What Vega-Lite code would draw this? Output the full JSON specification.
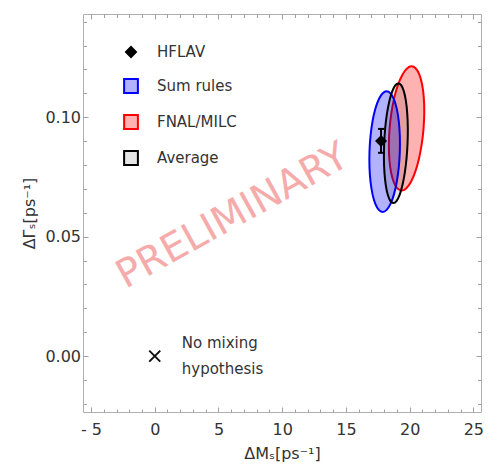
{
  "$schema": "https://vega.github.io/schema/vega-lite/v6.json",
  "width": 398,
  "height": 398,
  "padding": {"left": 21, "top": 13, "right": 5, "bottom": 5},
  "background": "white",
  "config": {
    "font": "DejaVu Sans",
    "view": {"stroke": "#b0b0b0", "strokeWidth": 1},
    "axis": {
      "grid": false, "domain": false, "tickColor": "#a0a0a0", "tickWidth": 1,
      "labelFont": "DejaVu Sans", "labelFontSize": 16, "labelColor": "#333333",
      "titleFont": "DejaVu Sans", "titleFontSize": 16, "titleFontWeight": "normal", "titleColor": "#333333",
      "labelOverlap": false, "labelFlush": false
    }
  },
  "datasets": {
    "red": [
      {"i": 0, "dm": 21.092, "dg": 0.0953}, {"i": 1, "dm": 21.148, "dg": 0.1020}, {"i": 2, "dm": 21.110, "dg": 0.1083},
      {"i": 3, "dm": 20.979, "dg": 0.1137}, {"i": 4, "dm": 20.765, "dg": 0.1178}, {"i": 5, "dm": 20.484, "dg": 0.1204},
      {"i": 6, "dm": 20.152, "dg": 0.1213}, {"i": 7, "dm": 19.794, "dg": 0.1204}, {"i": 8, "dm": 19.433, "dg": 0.1178},
      {"i": 9, "dm": 19.095, "dg": 0.1137}, {"i": 10, "dm": 18.802, "dg": 0.1083}, {"i": 11, "dm": 18.574, "dg": 0.1020},
      {"i": 12, "dm": 18.428, "dg": 0.0953}, {"i": 13, "dm": 18.372, "dg": 0.0886}, {"i": 14, "dm": 18.410, "dg": 0.0823},
      {"i": 15, "dm": 18.541, "dg": 0.0769}, {"i": 16, "dm": 18.755, "dg": 0.0728}, {"i": 17, "dm": 19.036, "dg": 0.0702},
      {"i": 18, "dm": 19.368, "dg": 0.0693}, {"i": 19, "dm": 19.726, "dg": 0.0702}, {"i": 20, "dm": 20.087, "dg": 0.0728},
      {"i": 21, "dm": 20.425, "dg": 0.0769}, {"i": 22, "dm": 20.718, "dg": 0.0823}, {"i": 23, "dm": 20.946, "dg": 0.0886}
    ],
    "blue": [
      {"i": 0, "dm": 19.230, "dg": 0.0856}, {"i": 1, "dm": 19.230, "dg": 0.0922}, {"i": 2, "dm": 19.150, "dg": 0.0983},
      {"i": 3, "dm": 18.992, "dg": 0.1035}, {"i": 4, "dm": 18.771, "dg": 0.1075}, {"i": 5, "dm": 18.500, "dg": 0.1100},
      {"i": 6, "dm": 18.197, "dg": 0.1109}, {"i": 7, "dm": 17.884, "dg": 0.1100}, {"i": 8, "dm": 17.581, "dg": 0.1075},
      {"i": 9, "dm": 17.310, "dg": 0.1035}, {"i": 10, "dm": 17.088, "dg": 0.0983}, {"i": 11, "dm": 16.932, "dg": 0.0922},
      {"i": 12, "dm": 16.850, "dg": 0.0856}, {"i": 13, "dm": 16.850, "dg": 0.0790}, {"i": 14, "dm": 16.930, "dg": 0.0730},
      {"i": 15, "dm": 17.088, "dg": 0.0677}, {"i": 16, "dm": 17.309, "dg": 0.0637}, {"i": 17, "dm": 17.580, "dg": 0.0612},
      {"i": 18, "dm": 17.883, "dg": 0.0603}, {"i": 19, "dm": 18.196, "dg": 0.0612}, {"i": 20, "dm": 18.499, "dg": 0.0637},
      {"i": 21, "dm": 18.770, "dg": 0.0677}, {"i": 22, "dm": 18.992, "dg": 0.0730}, {"i": 23, "dm": 19.148, "dg": 0.0790}
    ],
    "black": [
      {"i": 0, "dm": 19.837, "dg": 0.0891}, {"i": 1, "dm": 19.857, "dg": 0.0956}, {"i": 2, "dm": 19.812, "dg": 0.1016},
      {"i": 3, "dm": 19.707, "dg": 0.1068}, {"i": 4, "dm": 19.549, "dg": 0.1108}, {"i": 5, "dm": 19.346, "dg": 0.1133},
      {"i": 6, "dm": 19.116, "dg": 0.1141}, {"i": 7, "dm": 18.872, "dg": 0.1133}, {"i": 8, "dm": 18.631, "dg": 0.1108},
      {"i": 9, "dm": 18.411, "dg": 0.1068}, {"i": 10, "dm": 18.224, "dg": 0.1016}, {"i": 11, "dm": 18.085, "dg": 0.0956},
      {"i": 12, "dm": 18.003, "dg": 0.0891}, {"i": 13, "dm": 17.983, "dg": 0.0826}, {"i": 14, "dm": 18.028, "dg": 0.0766},
      {"i": 15, "dm": 18.133, "dg": 0.0714}, {"i": 16, "dm": 18.291, "dg": 0.0674}, {"i": 17, "dm": 18.494, "dg": 0.0649},
      {"i": 18, "dm": 18.724, "dg": 0.0641}, {"i": 19, "dm": 18.968, "dg": 0.0649}, {"i": 20, "dm": 19.209, "dg": 0.0674},
      {"i": 21, "dm": 19.429, "dg": 0.0714}, {"i": 22, "dm": 19.616, "dg": 0.0766}, {"i": 23, "dm": 19.755, "dg": 0.0826}
    ],
    "hflav": [
      {"series": "HFLAV", "dm": 17.757, "dg": 0.090, "dg_lo": 0.0851, "dg_hi": 0.0951}
    ],
    "nomix": [
      {"label": "No mixing\nhypothesis", "dm": 0, "dg": 0}
    ],
    "wm": [
      {"label": "PRELIMINARY"}
    ]
  },
  "resolve": {"axis": {"x": "independent", "y": "independent"}},
  "layer": [
    {
      "data": {"name": "wm"},
      "mark": {"type": "text", "angle": -29, "fontSize": 39, "color": "#f6abab", "align": "center", "baseline": "middle", "font": "DejaVu Sans"},
      "encoding": {
        "x": {"datum": 6.1, "type": "quantitative", "scale": {"domain": [-5.63, 25.6], "nice": false, "zero": false},
          "axis": {"orient": "bottom", "values": [-5,-4,-3,-2,-1,0,1,2,3,4,5,6,7,8,9,10,11,12,13,14,15,16,17,18,19,20,21,22,23,24,25],
            "tickSize": {"condition": {"test": "datum.value % 5 == 0", "value": -5}, "value": -3},
            "labelExpr": "datum.value % 5 == 0 ? (datum.value < 0 ? '- ' + format(-datum.value, 'd') : format(datum.value, 'd')) : ''",
            "labelPadding": 14, "title": "ΔMₛ[ps⁻¹]", "titlePadding": 6}},
        "y": {"datum": 0.0587, "type": "quantitative", "scale": {"domain": [-0.0234, 0.1432], "nice": false, "zero": false},
          "axis": {"orient": "left", "values": [-0.02,-0.01,0,0.01,0.02,0.03,0.04,0.05,0.06,0.07,0.08,0.09,0.1,0.11,0.12,0.13,0.14],
            "tickSize": {"condition": {"test": "round(datum.value * 100) % 5 == 0", "value": -5}, "value": -3.5},
            "labelExpr": "round(datum.value * 100) % 5 == 0 ? format(datum.value, '.2f') : ''",
            "labelPadding": 7.5, "title": "ΔΓₛ[ps⁻¹]", "titlePadding": 7}},
        "text": {"field": "label"}
      }
    },
    {
      "data": {"name": "red"},
      "mark": {"type": "line", "interpolate": "cardinal-closed", "fill": "#ff0000", "fillOpacity": 0.3, "stroke": "#ff0000", "strokeWidth": 2},
      "encoding": {
        "x": {"field": "dm", "type": "quantitative", "scale": {"domain": [-5.63, 25.6], "nice": false, "zero": false},
          "axis": {"orient": "top", "values": [-5,-4,-3,-2,-1,0,1,2,3,4,5,6,7,8,9,10,11,12,13,14,15,16,17,18,19,20,21,22,23,24,25],
            "tickSize": {"condition": {"test": "datum.value % 5 == 0", "value": -5}, "value": -3.5},
            "labels": false, "title": null}},
        "y": {"field": "dg", "type": "quantitative", "scale": {"domain": [-0.0234, 0.1432], "nice": false, "zero": false},
          "axis": {"orient": "right", "values": [-0.02,-0.01,0,0.01,0.02,0.03,0.04,0.05,0.06,0.07,0.08,0.09,0.1,0.11,0.12,0.13,0.14],
            "tickSize": {"condition": {"test": "round(datum.value * 100) % 5 == 0", "value": -5}, "value": -3.5},
            "labels": false, "title": null}},
        "order": {"field": "i", "type": "quantitative"}
      }
    },
    {
      "data": {"name": "blue"},
      "mark": {"type": "line", "interpolate": "cardinal-closed", "fill": "#0000ff", "fillOpacity": 0.3, "stroke": "#0000ff", "strokeWidth": 2},
      "encoding": {
        "x": {"field": "dm", "type": "quantitative", "scale": {"domain": [-5.63, 25.6], "nice": false, "zero": false}, "axis": null},
        "y": {"field": "dg", "type": "quantitative", "scale": {"domain": [-0.0234, 0.1432], "nice": false, "zero": false}, "axis": null},
        "order": {"field": "i", "type": "quantitative"}
      }
    },
    {
      "data": {"name": "black"},
      "mark": {"type": "line", "interpolate": "cardinal-closed", "fill": "#000000", "fillOpacity": 0.1, "stroke": "#000000", "strokeWidth": 2},
      "encoding": {
        "x": {"field": "dm", "type": "quantitative", "scale": {"domain": [-5.63, 25.6], "nice": false, "zero": false}, "axis": null},
        "y": {"field": "dg", "type": "quantitative", "scale": {"domain": [-0.0234, 0.1432], "nice": false, "zero": false}, "axis": null},
        "order": {"field": "i", "type": "quantitative"}
      }
    },
    {
      "data": {"name": "hflav"},
      "mark": {"type": "rule", "color": "black", "strokeWidth": 2},
      "encoding": {
        "x": {"field": "dm", "type": "quantitative", "scale": {"domain": [-5.63, 25.6], "nice": false, "zero": false}, "axis": null},
        "y": {"field": "dg_lo", "type": "quantitative", "scale": {"domain": [-0.0234, 0.1432], "nice": false, "zero": false}, "axis": null},
        "y2": {"field": "dg_hi"}
      }
    },
    {
      "data": {"name": "hflav"},
      "mark": {"type": "tick", "orient": "horizontal", "color": "black", "size": 6, "thickness": 2, "opacity": 1},
      "encoding": {
        "x": {"field": "dm", "type": "quantitative", "scale": {"domain": [-5.63, 25.6], "nice": false, "zero": false}, "axis": null},
        "y": {"field": "dg_lo", "type": "quantitative", "scale": {"domain": [-0.0234, 0.1432], "nice": false, "zero": false}, "axis": null}
      }
    },
    {
      "data": {"name": "hflav"},
      "mark": {"type": "tick", "orient": "horizontal", "color": "black", "size": 6, "thickness": 2, "opacity": 1},
      "encoding": {
        "x": {"field": "dm", "type": "quantitative", "scale": {"domain": [-5.63, 25.6], "nice": false, "zero": false}, "axis": null},
        "y": {"field": "dg_hi", "type": "quantitative", "scale": {"domain": [-0.0234, 0.1432], "nice": false, "zero": false}, "axis": null}
      }
    },
    {
      "data": {"name": "hflav"},
      "mark": {"type": "point", "filled": true, "opacity": 1, "size": 190, "strokeWidth": 1.5},
      "encoding": {
        "x": {"field": "dm", "type": "quantitative", "scale": {"domain": [-5.63, 25.6], "nice": false, "zero": false}, "axis": null},
        "y": {"field": "dg", "type": "quantitative", "scale": {"domain": [-0.0234, 0.1432], "nice": false, "zero": false}, "axis": null},
        "fill": {"field": "series", "type": "nominal",
          "scale": {"domain": ["HFLAV", "Sum rules", "FNAL/MILC", "Average"], "range": ["#000000", "rgba(0,0,255,0.3)", "rgba(255,0,0,0.3)", "rgba(0,0,0,0.1)"]},
          "legend": {"orient": "none", "legendX": 40, "legendY": 30, "title": null, "labelFontSize": 15, "labelColor": "#333333", "labelFont": "DejaVu Sans", "symbolSize": 190, "symbolStrokeWidth": 2, "rowPadding": 14, "labelOffset": 18, "symbolOpacity": 1, "padding": 0}},
        "stroke": {"field": "series", "type": "nominal",
          "scale": {"domain": ["HFLAV", "Sum rules", "FNAL/MILC", "Average"], "range": ["#000000", "#0000ff", "#ff0000", "#000000"]},
          "legend": {"orient": "none", "legendX": 40, "legendY": 30, "title": null, "labelFontSize": 15, "labelColor": "#333333", "labelFont": "DejaVu Sans", "symbolSize": 190, "symbolStrokeWidth": 2, "rowPadding": 14, "labelOffset": 18, "symbolOpacity": 1, "padding": 0}},
        "shape": {"field": "series", "type": "nominal",
          "scale": {"domain": ["HFLAV", "Sum rules", "FNAL/MILC", "Average"], "range": ["M-0.72,0L0,-0.72L0.72,0L0,0.72Z", "square", "square", "square"]},
          "legend": {"orient": "none", "legendX": 40, "legendY": 30, "title": null, "labelFontSize": 15, "labelColor": "#333333", "labelFont": "DejaVu Sans", "symbolSize": 190, "symbolStrokeWidth": 2, "rowPadding": 14, "labelOffset": 18, "symbolOpacity": 1, "padding": 0}}
      }
    },
    {
      "data": {"name": "nomix"},
      "mark": {"type": "point", "shape": "M-1,-1L1,1M1,-1L-1,1", "size": 121, "filled": false, "color": "#111111", "strokeWidth": 2, "opacity": 1},
      "encoding": {
        "x": {"field": "dm", "type": "quantitative", "scale": {"domain": [-5.63, 25.6], "nice": false, "zero": false}, "axis": null},
        "y": {"field": "dg", "type": "quantitative", "scale": {"domain": [-0.0234, 0.1432], "nice": false, "zero": false}, "axis": null}
      }
    },
    {
      "data": {"name": "nomix"},
      "mark": {"type": "text", "align": "left", "baseline": "middle", "dx": 27, "dy": -13, "fontSize": 15, "lineHeight": 26, "lineBreak": "\n", "color": "#333333", "font": "DejaVu Sans"},
      "encoding": {
        "x": {"field": "dm", "type": "quantitative", "scale": {"domain": [-5.63, 25.6], "nice": false, "zero": false}, "axis": null},
        "y": {"field": "dg", "type": "quantitative", "scale": {"domain": [-0.0234, 0.1432], "nice": false, "zero": false}, "axis": null},
        "text": {"field": "label"}
      }
    }
  ]
}
